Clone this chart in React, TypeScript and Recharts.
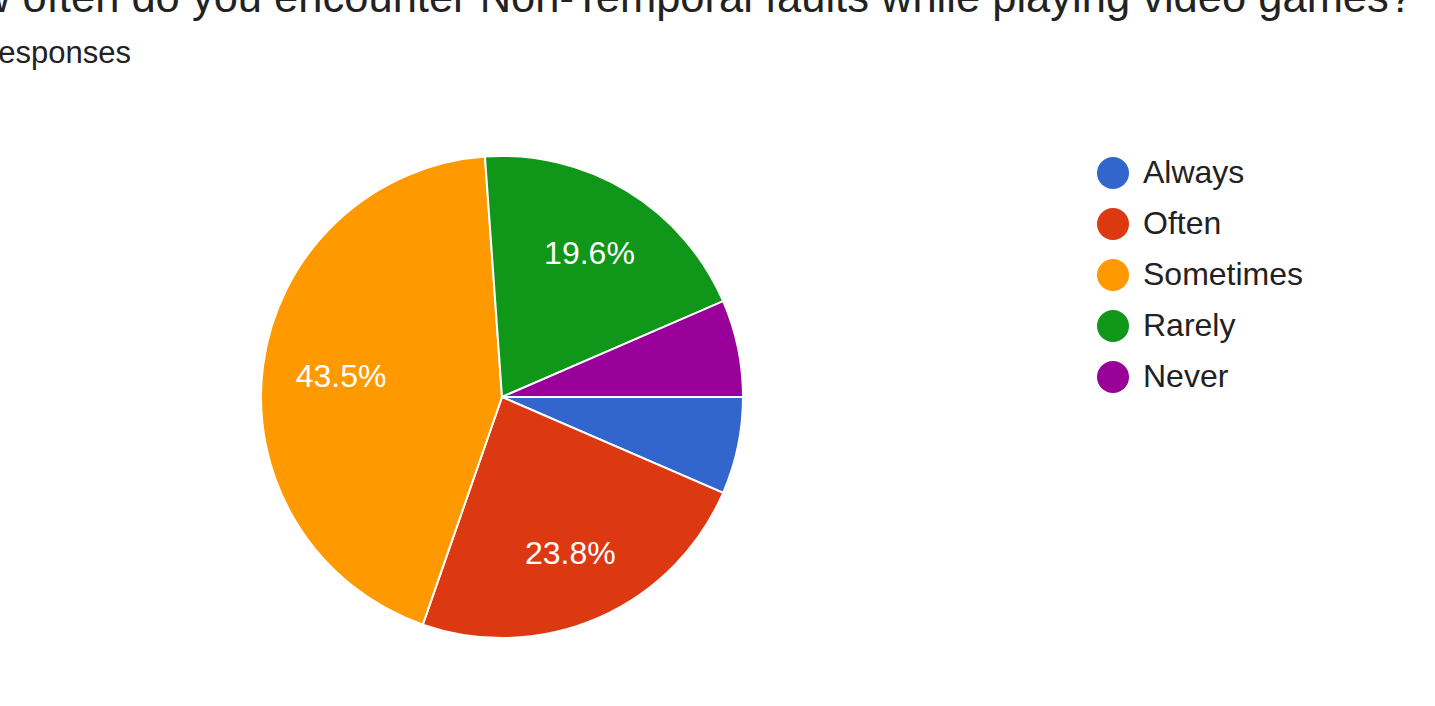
import React from "react";
import { PieChart, Pie, Cell, Legend } from "recharts";

const categories = ["Always", "Often", "Sometimes", "Rarely", "Never"];
const shares = [6.5, 23.8, 43.5, 19.6, 6.5];
const colors = ["#3366cc", "#dc3912", "#ff9900", "#109618", "#990099"];
const titleText = "How often do you encounter Non-Temporal faults while playing video games?";
const subtitleText = "responses";

const data = categories.map((name, i) => ({ name, value: shares[i] }));

const FONT = "Arial, 'Liberation Sans', Helvetica, sans-serif";
const RADIAN = Math.PI / 180;

const renderLabel = (props: any) => {
  const { cx, cy, midAngle, outerRadius, value } = props;
  if (value < 10) return null;
  const c = Math.cos(-midAngle * RADIAN);
  const s = Math.sin(-midAngle * RADIAN);
  // keep the text box inside the slice: pull wide labels in a bit more when horizontal
  const r = outerRadius * (0.728 - 0.055 * Math.abs(c));
  const x = cx + r * c;
  const y = cy + r * s;
  return (
    <text
      x={x}
      y={y}
      fill="#ffffff"
      textAnchor="middle"
      dominantBaseline="central"
      fontSize={32}
      fontFamily={FONT}
    >
      {`${value.toFixed(1)}%`}
    </text>
  );
};

const renderLegend = (props: any) => {
  const payload: any[] = props.payload || [];
  const ordered = categories
    .map((c) => payload.find((p: any) => p.value === c))
    .filter(Boolean);
  return (
    <div style={{ fontFamily: FONT }}>
      {ordered.map((entry: any, i: number) => (
        <div
          key={i}
          style={{ display: "flex", alignItems: "center", height: 51 }}
        >
          <svg width={32} height={32} style={{ marginRight: 14 }}>
            <circle cx={16} cy={16} r={16} fill={entry.color} />
          </svg>
          <span style={{ fontSize: 32, color: "#222222" }}>{entry.value}</span>
        </div>
      ))}
    </div>
  );
};

export default function App() {
  return (
    <div
      style={{
        position: "absolute",
        left: 0,
        top: 0,
        width: 1435,
        height: 706,
        background: "#ffffff",
        overflow: "hidden",
      }}
    >
      <svg
        width={1435}
        height={706}
        style={{ position: "absolute", left: 0, top: 0 }}
      >
        <text
          x={1413}
          y={12}
          textAnchor="end"
          fontFamily={FONT}
          fontSize={43.5}
          fill="#222222"
        >
          {titleText}
        </text>
        <text
          x={131}
          y={63}
          textAnchor="end"
          fontFamily={FONT}
          fontSize={31}
          fill="#222222"
        >
          {subtitleText}
        </text>
      </svg>
      <div style={{ position: "absolute", left: 0, top: 0 }}>
        <PieChart
          width={1435}
          height={706}
          margin={{ top: 0, right: 0, bottom: 0, left: 0 }}
        >
          <Pie
            data={data}
            dataKey="value"
            nameKey="name"
            cx={502}
            cy={397}
            outerRadius={241}
            startAngle={0}
            endAngle={-360}
            stroke="#ffffff"
            strokeWidth={2}
            label={renderLabel}
            labelLine={false}
            isAnimationActive={false}
          >
            {data.map((d, i) => (
              <Cell key={d.name} fill={colors[i]} />
            ))}
          </Pie>
          <Legend
            layout="vertical"
            verticalAlign="top"
            align="right"
            content={renderLegend}
            wrapperStyle={{ left: 1097, top: 147, width: 300 }}
          />
        </PieChart>
      </div>
    </div>
  );
}
